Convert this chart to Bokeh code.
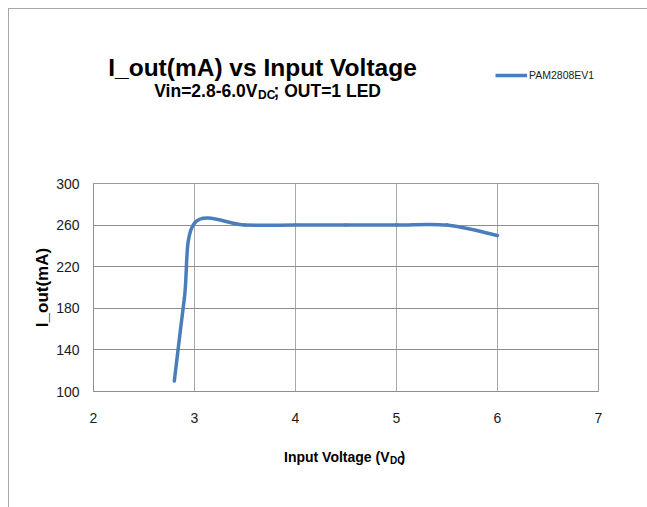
import math
from bokeh.plotting import figure
from bokeh.layouts import column
from bokeh.models import Label, Legend, LegendItem, FixedTicker, ColumnDataSource, Range1d
from bokeh.embed import file_html
from bokeh.resources import INLINE

# ---- data ----
voltage = [2.8, 2.9, 3.0, 3.5, 4.0, 4.5, 5.0, 5.5, 6.0]
current = [110, 190, 262, 260, 260, 260, 260, 260, 250]
x_ticks = [2, 3, 4, 5, 6, 7]
y_ticks = [100, 140, 180, 220, 260, 300]
series_name = "PAM2808EV1"
title_text = "I_out(mA) vs Input Voltage"
subtitle_main = "Vin=2.8-6.0V"
subtitle_sub = "DC"
subtitle_rest = "; OUT=1 LED"
xlabel_main = "Input Voltage (V"
xlabel_sub = "DC"
xlabel_rest = ")"
ylabel_text = "I_out(mA)"

FONT = "Liberation Sans"
LINE_COLOR = "#4A7EBB"
HGRID = "#8e8e8e"
VGRID = "#a8a8a8"
W = 638
HEAD_H, MAIN_H, FOOT_H = 164, 258, 76
# page geometry of the plot frame (the column of figures aligns frames)
FRAME_L, FRAME_R = 93, 598
TOP = 9

n = len(voltage)
x0, y0, x1, y1, cx0, cy0, cx1, cy1 = [], [], [], [], [], [], [], []
for i in range(n - 1):
    pm = max(i - 1, 0)
    pp = min(i + 2, n - 1)
    x0.append(voltage[i]); y0.append(current[i])
    x1.append(voltage[i + 1]); y1.append(current[i + 1])
    cx0.append(voltage[i] + (voltage[i + 1] - voltage[pm]) / 6)
    cy0.append(current[i] + (current[i + 1] - current[pm]) / 6)
    cx1.append(voltage[i + 1] - (voltage[pp] - voltage[i]) / 6)
    cy1.append(current[i + 1] - (current[pp] - current[i]) / 6)
src = ColumnDataSource(dict(x0=x0, y0=y0, x1=x1, y1=y1, cx0=cx0, cy0=cy0, cx1=cx1, cy1=cy1))


def blank(h, top):
    # a text-only strip whose data coordinates equal page pixels
    f = figure(width=W, height=h, output_backend="svg", toolbar_location=None,
               x_range=Range1d(FRAME_L, FRAME_R), y_range=Range1d(top + h, top),
               x_axis_type=None, y_axis_type=None, min_border=0,
               min_border_left=0, min_border_right=0, min_border_top=0, min_border_bottom=0)
    f.grid.visible = False
    f.outline_line_color = None
    f.background_fill_color = "white"
    f.border_fill_color = "white"
    return f


def lab(f, text, x, y, size, align="left", baseline="alphabetic", bold=True):
    f.add_layout(Label(x=x, y=y, text=text, text_font=FONT, text_font_size=size,
                       text_font_style="bold" if bold else "normal",
                       text_align=align, text_baseline=baseline, text_color="#000000"))


# ---- header strip: title, subtitle, legend ----
head = blank(HEAD_H, TOP)
lab(head, title_text, 262, 67, "24.5px", align="center")
lab(head, subtitle_main, 257, 90, "17.5px", align="right")
lab(head, subtitle_sub, 257.5, 94.5, "12px")
lab(head, subtitle_rest, 273, 90, "17.5px")
# the series drawn in header coordinates falls outside the header frame, so only its legend key shows
key = head.line(x=voltage, y=current, line_color=LINE_COLOR, line_width=3.5)
legend = Legend(items=[LegendItem(label=series_name, renderers=[key])], location=(402, 91),
                glyph_width=32, glyph_height=14, label_height=14, label_standoff=2,
                padding=0, margin=0, spacing=0, border_line_color=None,
                background_fill_alpha=0, label_text_font=FONT, label_text_font_size="10.5px",
                label_text_color="#1a1a1a", label_text_baseline="middle")
head.add_layout(legend, "center")

# ---- main chart ----
p = figure(width=W, height=MAIN_H, output_backend="svg", toolbar_location=None,
           x_range=Range1d(2, 7), y_range=Range1d(100, 300),
           min_border_left=84, min_border_right=49, min_border_top=10, min_border_bottom=40)
p.background_fill_color = "white"
p.border_fill_color = "white"
p.outline_line_color = "#9a9a9a"

for ax in (p.xaxis[0], p.yaxis[0]):
    ax.major_tick_in = 0
    ax.major_tick_out = 0
    ax.minor_tick_in = 0
    ax.minor_tick_out = 0
    ax.axis_line_color = HGRID
    ax.major_label_text_font = FONT
    ax.major_label_text_font_size = "14px"
    ax.major_label_text_color = "#1a1a1a"
    ax.major_label_standoff = 14
p.xaxis.ticker = FixedTicker(ticks=x_ticks)
p.yaxis.ticker = FixedTicker(ticks=y_ticks)
p.xaxis.major_label_standoff = 21
p.yaxis.axis_label = ylabel_text
p.yaxis.axis_label_text_font = FONT
p.yaxis.axis_label_text_font_size = "17px"
p.yaxis.axis_label_text_font_style = "bold"
p.yaxis.axis_label_text_color = "#000000"
p.yaxis.axis_label_standoff = 1
p.xgrid.ticker = FixedTicker(ticks=x_ticks)
p.ygrid.ticker = FixedTicker(ticks=y_ticks)
p.xgrid.grid_line_color = VGRID
p.ygrid.grid_line_color = HGRID

p.bezier(x0="x0", y0="y0", x1="x1", y1="y1", cx0="cx0", cy0="cy0", cx1="cx1", cy1="cy1",
         source=src, line_color=LINE_COLOR, line_width=3.5, line_cap="round")

# ---- footer strip: x axis title with subscript ----
foot = blank(FOOT_H, TOP + HEAD_H + MAIN_H)
lab(foot, xlabel_main, 389, 456, "14px", align="right")
lab(foot, xlabel_sub, 389.5, 459.5, "10px")
lab(foot, xlabel_rest, 400, 456, "14px")

layout = column(head, p, foot, spacing=0)
layout.styles = {"margin-left": "8px", "margin-top": "8px",
                 "border-top": "1px solid #a6a6a6", "border-left": "1px solid #a6a6a6"}

open("out.html", "w").write(file_html(layout, INLINE))
